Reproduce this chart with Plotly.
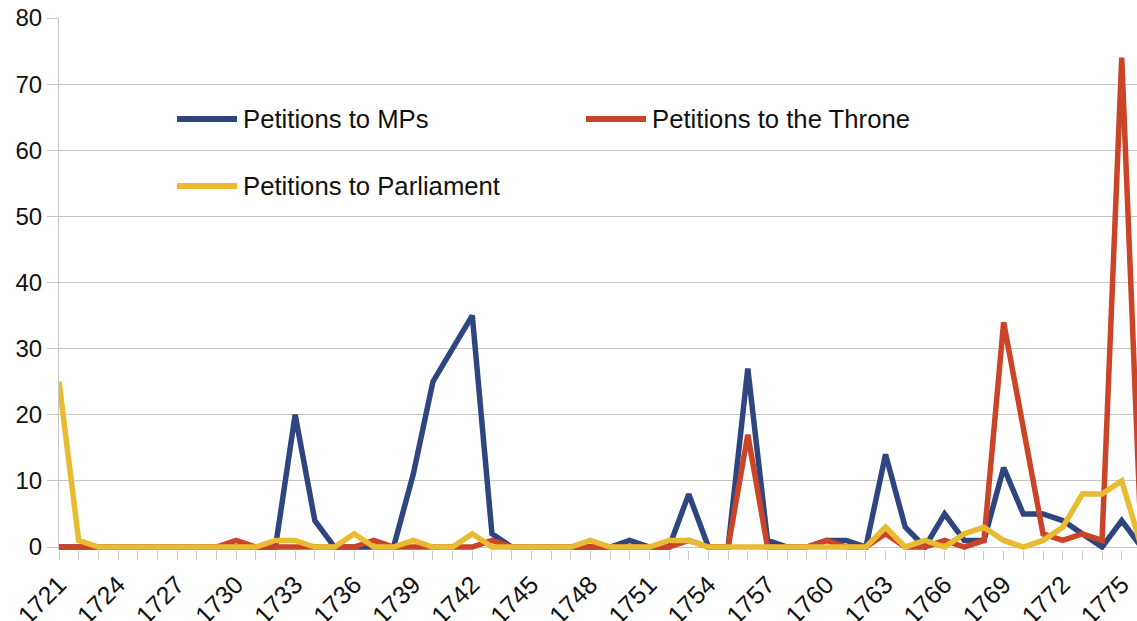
import plotly.graph_objects as go

# Yearly petition counts, 1721-1776
years = list(range(1721, 1777))

petitions_mps = [
    0, 0, 0, 0, 0, 0, 0, 0, 0, 0,      # 1721-1730
    0, 0, 20, 4, 0, 0, 0, 0, 11, 25,   # 1731-1740
    30, 35, 2, 0, 0, 0, 0, 0, 0, 1,    # 1741-1750
    0, 0, 8, 0, 0, 27, 1, 0, 0, 1,     # 1751-1760
    1, 0, 14, 3, 0, 5, 1, 1, 12, 5,    # 1761-1770
    5, 4, 2, 0, 4, 0,                  # 1771-1776
]

petitions_throne = [
    0, 0, 0, 0, 0, 0, 0, 0, 0, 1,      # 1721-1730
    0, 0, 0, 0, 0, 0, 1, 0, 0, 0,      # 1731-1740
    0, 0, 1, 0, 0, 0, 0, 0, 0, 0,      # 1741-1750
    0, 0, 1, 0, 0, 17, 0, 0, 0, 1,     # 1751-1760
    0, 0, 2, 0, 0, 1, 0, 1, 34, 18,    # 1761-1770
    2, 1, 2, 1, 74, 0,                 # 1771-1776
]

petitions_parliament = [
    25, 1, 0, 0, 0, 0, 0, 0, 0, 0,     # 1721-1730
    0, 1, 1, 0, 0, 2, 0, 0, 1, 0,      # 1731-1740
    0, 2, 0, 0, 0, 0, 0, 1, 0, 0,      # 1741-1750
    0, 1, 1, 0, 0, 0, 0, 0, 0, 0,      # 1751-1760
    0, 0, 3, 0, 1, 0, 2, 3, 1, 0,      # 1761-1770
    1, 3, 8, 8, 10, 0,                 # 1771-1776
]

series_names = ["Petitions to MPs", "Petitions to the Throne", "Petitions to Parliament"]
series_colors = ["#2f4580", "#cb4427", "#e9bb31"]
series_values = [petitions_mps, petitions_throne, petitions_parliament]

W, H = 1137, 621
ML, MR, MT, MB = 59, 0, 18, 71
PW, PH = W - ML - MR, H - MT - MB
FONT = "Liberation Sans, Arial, sans-serif"
GRID = "#c6c6c6"


def px_x(px):
    return (px - ML) / PW


def px_y(py):
    return (H - MB - py) / PH


fig = go.Figure()
for name, color, vals in zip(series_names, series_colors, series_values):
    fig.add_trace(go.Scatter(
        x=years, y=vals, mode="lines", name=name,
        line=dict(color=color, width=5.5),
        showlegend=False, hoverinfo="x+y+name",
    ))

# Legend drawn as sample strokes with labels
legend_items = [
    (series_names[0], series_colors[0], 177, 119),
    (series_names[1], series_colors[1], 586, 119),
    (series_names[2], series_colors[2], 177, 186),
]
shapes, annotations = [], []
for name, color, x0, yc in legend_items:
    shapes.append(dict(
        type="line", xref="paper", yref="paper",
        x0=px_x(x0), x1=px_x(x0 + 60), y0=px_y(yc), y1=px_y(yc),
        line=dict(color=color, width=6),
    ))
    annotations.append(dict(
        xref="paper", yref="paper", x=px_x(x0 + 64), y=px_y(yc),
        xanchor="left", yanchor="middle", showarrow=False,
        text=name, font=dict(family=FONT, size=25.7, color="#111111"),
    ))

fig.update_layout(
    width=W, height=H,
    margin=dict(l=ML, r=MR, t=MT, b=MB, pad=0),
    paper_bgcolor="white", plot_bgcolor="white",
    font=dict(family=FONT, color="#111111"),
    shapes=shapes, annotations=annotations,
    showlegend=False,
)
fig.update_xaxes(
    range=[1721, 1721 + PW / 19.68],
    tickmode="linear", tick0=1721, dtick=3,
    tickangle=-45, tickfont=dict(size=25, family=FONT, color="#111111"),
    ticks="outside", ticklen=9, tickcolor=GRID, tickwidth=1,
    minor=dict(tickmode="linear", tick0=1721, dtick=1, ticks="outside",
               ticklen=9, tickcolor=GRID, tickwidth=1, showgrid=False),
    showgrid=False, zeroline=False, showline=False, automargin=False,
)
fig.update_yaxes(
    range=[-0.45, 80],
    tickmode="array", tickvals=list(range(0, 81, 10)),
    tickfont=dict(size=24, family=FONT, color="#111111"),
    ticks="outside", ticklen=11, tickcolor=GRID, tickwidth=1,
    showgrid=True, gridcolor=GRID, gridwidth=1,
    zeroline=False, showline=True, linecolor=GRID, linewidth=1,
    automargin=False,
)

fig.write_html("out.html")
